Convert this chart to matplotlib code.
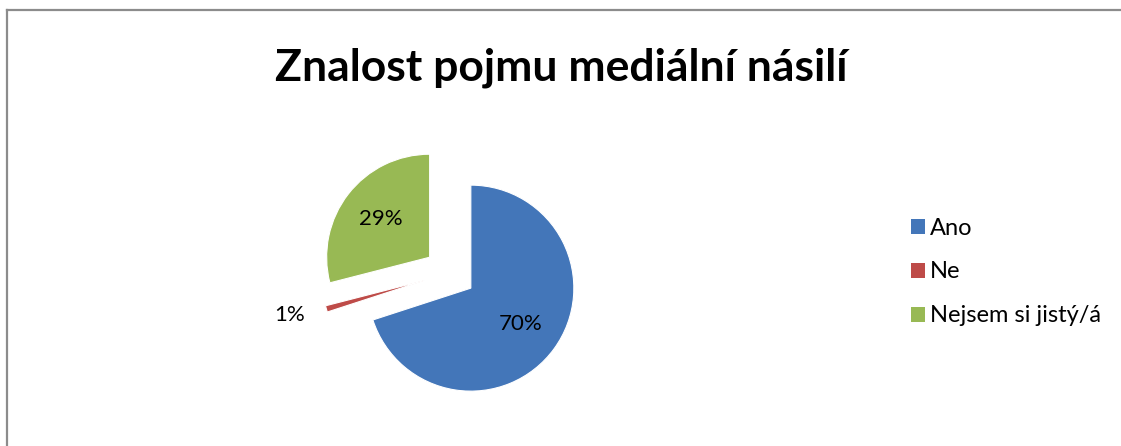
#!/usr/bin/env python3

import numpy as np
import matplotlib.pyplot as plt
from matplotlib.lines import Line2D
from matplotlib.patches import Patch

labels = ["Ano", "Ne", "Nejsem si jistý/á"]
shares = [70, 1, 29]
colors = ["#4376B9", "#BE4B48", "#98B954"]
title = "Znalost pojmu mediální násilí"

plt.rcParams['font.family'] = ['Lato', 'DejaVu Sans']

W, H = 1121, 446
fig = plt.figure(figsize=(W / 100, H / 100), dpi=100)

# chart border (only top/left are inside the picture)
fig.add_artist(Line2D([7 / W, 1], [1 - 10 / H, 1 - 10 / H], color="#8c8c8c", lw=1.6))
fig.add_artist(Line2D([7 / W, 7 / W], [0, 1 - 10 / H], color="#8c8c8c", lw=1.6))

fig.text(561 / W, 1 - 68 / H, title, ha="center", va="center",
         fontsize=32, fontweight="bold")

# square axes of 300 px centred on the pie (radius ~103 px)
half = 150
cx, cy = 450, 273
ax = fig.add_axes([(cx - half) / W, (H - cy - half) / H, 2 * half / W, 2 * half / H])
ax.axis("off")
lim = half / 103

wedges, texts, autotexts = ax.pie(
    shares, colors=colors, startangle=90, counterclock=False,
    explode=[0.25] * len(shares), autopct="%d%%", pctdistance=0.6,
    wedgeprops=dict(linewidth=0.8, edgecolor="#ffffff"),
    textprops=dict(fontsize=16, color="black"),
)
ax.set_xlim(-lim, lim)
ax.set_ylim(-lim, lim)

# small slice label goes outside
for w, t, v in zip(wedges, autotexts, shares):
    if v < 5:
        mid = np.deg2rad((w.theta1 + w.theta2) / 2)
        x0, y0 = w.center
        t.set_position((x0 + 1.22 * np.cos(mid), y0 + 1.22 * np.sin(mid)))
        t.set_ha("right")

handles = [Patch(facecolor=c, edgecolor="none") for c in colors]
fig.legend(handles, labels, loc="center left", bbox_to_anchor=(899 / W, 1 - 272 / H),
           frameon=False, fontsize=17, handlelength=0.6, handleheight=0.6,
           handletextpad=0.2, labelspacing=0.97, borderpad=0)

fig.savefig("out.png", dpi=100)
